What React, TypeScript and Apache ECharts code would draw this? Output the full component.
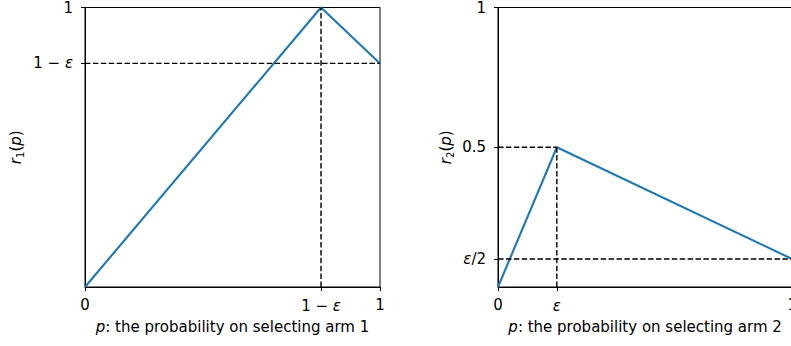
import React, { useEffect, useRef } from "react";
import * as echarts from "echarts";

// Left panel: r1(p)
const pLeft = [0, 0.8, 1];
const r1 = [0, 1, 0.8];
// Right panel: r2(p)
const pRight = [0, 0.2, 1];
const r2 = [0, 0.5, 0.1];

// guide lines (dashed)
const leftGuides = [
  [[0, 0.8], [1, 0.8]],
  [[0.8, 0], [0.8, 1]],
];
const rightGuides = [
  [[0, 0.5], [0.2, 0.5]],
  [[0.2, 0], [0.2, 0.5]],
  [[0, 0.1], [1, 0.1]],
];

// tick positions and labels
const leftXTicks = [0, 0.8, 1];
const leftXLabels = ["0", "{n|1 − }{i|ε}", "1"];
const leftYTicks = [0.8, 1];
const leftYLabels = ["{n|1 − }{i|ε}", "1"];
const rightXTicks = [0, 0.2, 1];
const rightXLabels = ["0", "{i|ε}", "1"];
const rightYTicks = [0.1, 0.5, 1];
const rightYLabels = ["{i|ε}{n|/2}", "0.5", "1"];

const FONT = "DejaVu Sans";
const BLUE = "#1f77b4";
const FS = 15;

const rich = {
  n: { fontFamily: FONT, fontSize: FS, color: "#000", lineHeight: 18 },
  i: { fontFamily: FONT, fontSize: FS, color: "#000", fontStyle: "italic", lineHeight: 18 },
  s: { fontFamily: FONT, fontSize: 10, color: "#000", verticalAlign: "bottom", padding: [9, 0, 0, 0], lineHeight: 10 },
};

function labelFor(ticks: number[], labels: string[]) {
  return (v: number) => {
    const idx = ticks.findIndex((t) => Math.abs(t - v) < 1e-9);
    return idx >= 0 ? labels[idx] : "";
  };
}

function xAxis(gridIndex: number, ticks: number[], labels: string[], name: string) {
  return {
    type: "value",
    gridIndex,
    min: 0,
    max: 1,
    splitLine: { show: false },
    axisLine: { show: true, lineStyle: { color: "#000", width: 1 } },
    axisTick: { show: true, length: 4, customValues: ticks, lineStyle: { color: "#000", width: 1 } },
    axisLabel: {
      customValues: ticks,
      formatter: labelFor(ticks, labels),
      margin: 10,
      color: "#000",
      fontFamily: FONT,
      fontSize: FS,
      rich,
    },
    name,
    nameLocation: "middle",
    nameGap: 31,
    nameTextStyle: { fontFamily: FONT, fontSize: FS, color: "#000", rich },
  };
}

function yAxis(gridIndex: number, ticks: number[], labels: string[], name: string, gap: number) {
  return {
    type: "value",
    gridIndex,
    min: 0,
    max: 1,
    splitLine: { show: false },
    axisLine: { show: true, lineStyle: { color: "#000", width: 1 } },
    axisTick: { show: true, length: 4, customValues: ticks, lineStyle: { color: "#000", width: 1 } },
    axisLabel: {
      customValues: ticks,
      formatter: labelFor(ticks, labels),
      margin: 12,
      color: "#000",
      fontFamily: FONT,
      fontSize: FS,
      rich,
    },
    name,
    nameLocation: "middle",
    nameRotate: 90,
    nameGap: gap,
    nameTextStyle: { fontFamily: FONT, fontSize: FS, color: "#000", rich },
  };
}

function dashed(guides: number[][][], idx: number) {
  return guides.map((g) => ({
    type: "line",
    xAxisIndex: idx,
    yAxisIndex: idx,
    data: g,
    symbol: "none",
    clip: false,
    silent: true,
    lineStyle: { color: "#000", width: 1.4, type: [5.5, 2.4] },
    z: 3,
  }));
}

export default function App() {
  const ref = useRef<HTMLDivElement>(null);
  useEffect(() => {
    if (!ref.current) return;
    const chart = echarts.init(ref.current, null, { renderer: "svg" });
    chart.setOption({
      animation: false,
      backgroundColor: "#fff",
      grid: [
        { left: 85, top: 5, width: 295, height: 282, show: true, borderColor: "#000", borderWidth: 1, backgroundColor: "transparent" },
        { left: 498, top: 5, width: 295, height: 282, show: true, borderColor: "#000", borderWidth: 1, backgroundColor: "transparent" },
      ],
      xAxis: [
        xAxis(0, leftXTicks, leftXLabels, "{i|p}{n|: the probability on selecting arm 1}"),
        xAxis(1, rightXTicks, rightXLabels, "{i|p}{n|: the probability on selecting arm 2}"),
      ],
      yAxis: [
        yAxis(0, leftYTicks, leftYLabels, "{i|r}{s|1}{n|(}{i|p}{n|)}", 60),
        yAxis(1, rightYTicks, rightYLabels, "{i|r}{s|2}{n|(}{i|p}{n|)}", 43),
      ],
      series: [
        {
          type: "line",
          xAxisIndex: 0,
          yAxisIndex: 0,
          data: pLeft.map((p, i) => [p, r1[i]]),
          symbol: "none",
          clip: false,
          lineStyle: { color: BLUE, width: 2.1 },
          z: 2,
        },
        {
          type: "line",
          xAxisIndex: 1,
          yAxisIndex: 1,
          data: pRight.map((p, i) => [p, r2[i]]),
          symbol: "none",
          clip: false,
          lineStyle: { color: BLUE, width: 2.1 },
          z: 2,
        },
        ...dashed(leftGuides, 0),
        ...dashed(rightGuides, 1),
      ],
    });
    return () => chart.dispose();
  }, []);
  return (
    <div
      ref={ref}
      style={{ position: "fixed", left: 0, top: 0, width: 800, height: 346 }}
    />
  );
}
